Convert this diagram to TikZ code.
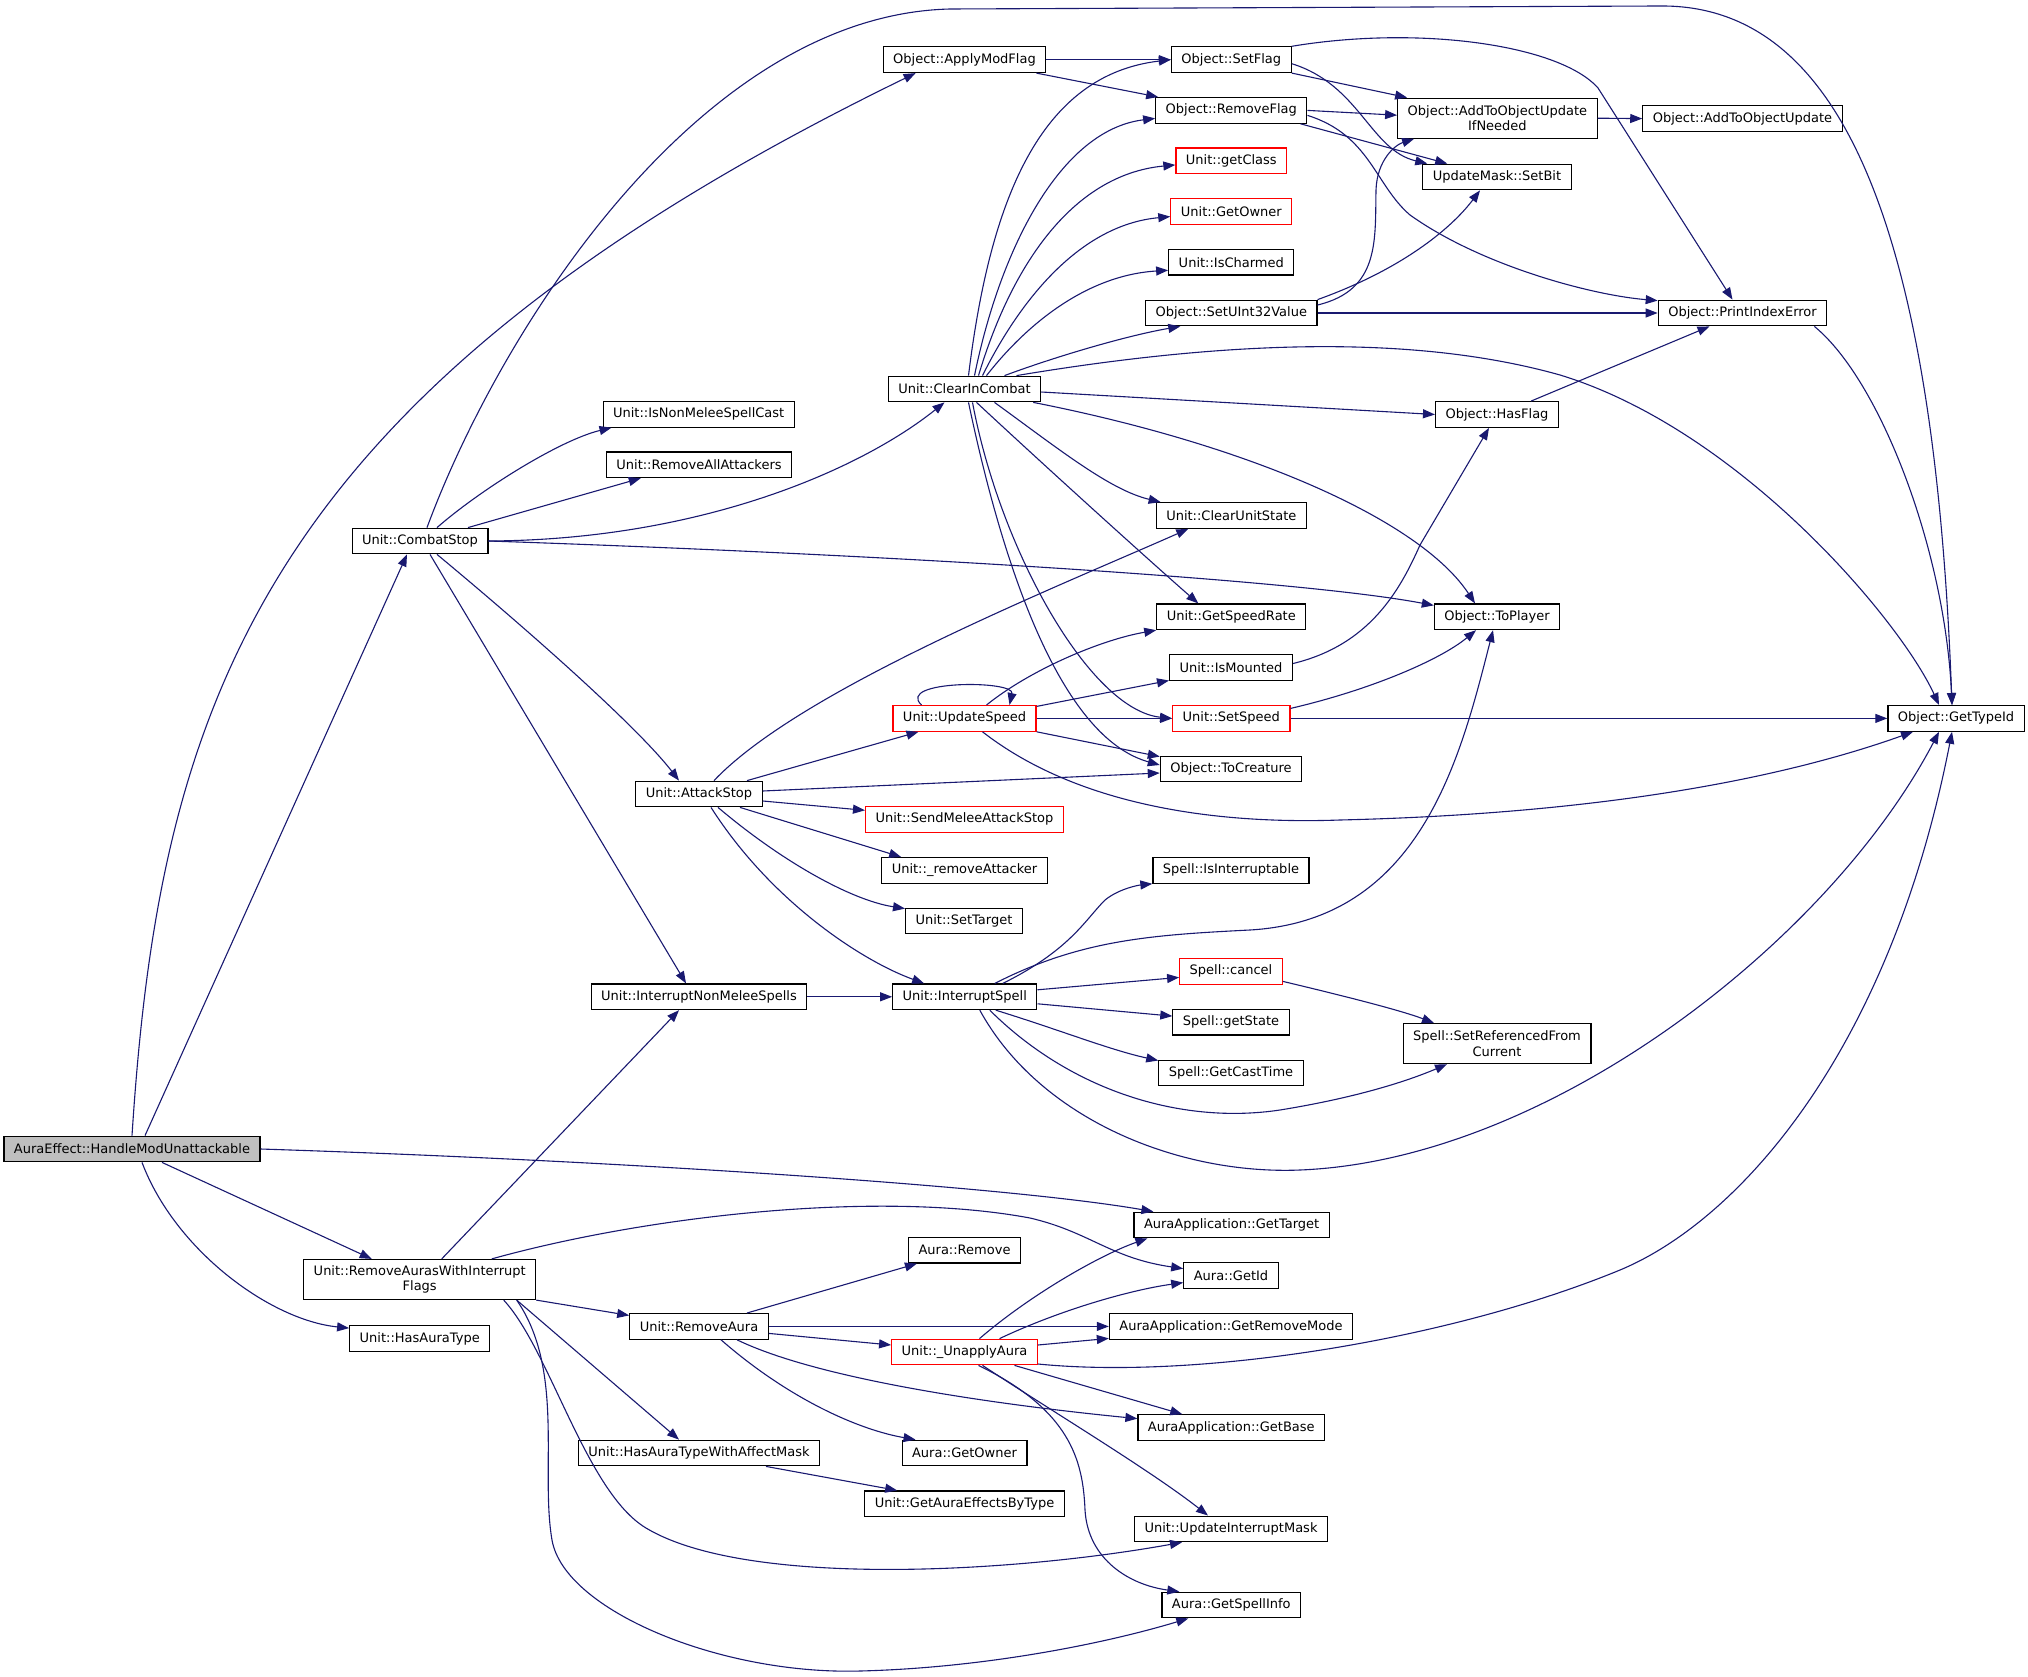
\documentclass[tikz,border=0pt]{standalone}
\usepackage{fontspec}
\setmainfont{DejaVu Sans}
\usetikzlibrary{arrows.meta}
\definecolor{edgeblue}{HTML}{191970}
\tikzset{
    fn/.style={draw=black, line width=1.2pt, fill=white, font=\fontsize{13}{15.5}\selectfont, inner xsep=10pt, inner ysep=3pt, minimum height=25.6pt, align=center},
    fnred/.style={fn, draw=red},
    fnroot/.style={fn, fill=black!25},
    fntwo/.style={fn, minimum height=40pt},
    call/.style={edgeblue, line width=1.1pt, -{Triangle[length=12pt,width=9pt]}}
}
\newcommand{\callLine}[2]{
    \draw[call] (#1) -- (#2);
}
\begin{document}
\begin{tikzpicture}[x=1pt,y=1pt]
            \useasboundingbox (0,0) rectangle (2028,-1677);

            \node[fnroot] (handle) at (132,-1149) {AuraEffect::HandleModUnattackable};
            \node[fn] (combatStop) at (420,-541) {Unit::CombatStop};
            \node[fntwo] (removeAurasWIF) at (419.7,-1279.5) {Unit::RemoveAurasWithInterrupt\\Flags};
            \node[fn] (hasAuraType) at (419.7,-1338.5) {Unit::HasAuraType};
            \node[fn] (applyModFlag) at (964.5,-59.7) {Object::ApplyModFlag};
            \node[fn] (isNonMeleeSpellCast) at (698.7,-414.3) {Unit::IsNonMeleeSpellCast};
            \node[fn] (removeAllAttackers) at (699,-464.8) {Unit::RemoveAllAttackers};
            \node[fn] (clearInCombat) at (964.5,-389) {Unit::ClearInCombat};
            \node[fn] (attackStop) at (699,-794) {Unit::AttackStop};
            \node[fn] (interruptNonMelee) at (699,-996.8) {Unit::InterruptNonMeleeSpells};
            \node[fn] (removeAura) at (699,-1326.4) {Unit::RemoveAura};
            \node[fn] (hasAuraTypeWAM) at (699,-1453) {Unit::HasAuraTypeWithAffectMask};
            \node[fnred] (updateSpeed) at (964.5,-718.4) {Unit::UpdateSpeed};
            \node[fnred] (sendMeleeAttackStop) at (964.5,-819.3) {Unit::SendMeleeAttackStop};
            \node[fn] (removeAttacker) at (964.5,-870.4) {Unit::\_removeAttacker};
            \node[fn] (setTarget) at (964,-921) {Unit::SetTarget};
            \node[fn] (interruptSpell) at (964.8,-996.8) {Unit::InterruptSpell};
            \node[fn] (auraRemove) at (964.5,-1250.2) {Aura::Remove};
            \node[fnred] (unapplyAura) at (964.5,-1352) {Unit::\_UnapplyAura};
            \node[fn] (auraGetOwner) at (964.5,-1453) {Aura::GetOwner};
            \node[fn] (getAuraEffects) at (964.5,-1503.8) {Unit::GetAuraEffectsByType};
            \node[fn] (setFlag) at (1231.3,-59.7) {Object::SetFlag};
            \node[fn] (removeFlag) at (1231.3,-110.4) {Object::RemoveFlag};
            \node[fnred] (getClass) at (1231.3,-160.9) {Unit::getClass};
            \node[fnred] (getOwner) at (1231.3,-211.6) {Unit::GetOwner};
            \node[fn] (isCharmed) at (1231.3,-262.3) {Unit::IsCharmed};
            \node[fn] (setUInt32) at (1231.3,-313) {Object::SetUInt32Value};
            \node[fn] (clearUnitState) at (1231.3,-515.5) {Unit::ClearUnitState};
            \node[fn] (getSpeedRate) at (1231.3,-616.8) {Unit::GetSpeedRate};
            \node[fn] (isMounted) at (1231,-667.5) {Unit::IsMounted};
            \node[fnred] (setSpeed) at (1231.3,-718.4) {Unit::SetSpeed};
            \node[fn] (toCreature) at (1231,-769) {Object::ToCreature};
            \node[fn] (isInterruptable) at (1231,-870.4) {Spell::IsInterruptable};
            \node[fnred] (spellCancel) at (1231,-971.4) {Spell::cancel};
            \node[fn] (getState) at (1231,-1022.1) {Spell::getState};
            \node[fn] (getCastTime) at (1231,-1072.9) {Spell::GetCastTime};
            \node[fn] (getTarget) at (1231.6,-1225) {AuraApplication::GetTarget};
            \node[fn] (auraGetId) at (1231,-1275.6) {Aura::GetId};
            \node[fn] (getRemoveMode) at (1231,-1326.4) {AuraApplication::GetRemoveMode};
            \node[fn] (getBase) at (1231.3,-1427.6) {AuraApplication::GetBase};
            \node[fn] (updateInterruptMask) at (1231,-1528.9) {Unit::UpdateInterruptMask};
            \node[fn] (getSpellInfo) at (1231.3,-1605) {Aura::GetSpellInfo};
            \node[fntwo] (addToUpdateIfNeeded) at (1497.4,-118.2) {Object::AddToObjectUpdate\\IfNeeded};
            \node[fn] (setBit) at (1497,-177) {UpdateMask::SetBit};
            \node[fn] (hasFlag) at (1497,-414.5) {Object::HasFlag};
            \node[fn] (toPlayer) at (1497,-616.8) {Object::ToPlayer};
            \node[fntwo] (setRefFromCurrent) at (1497,-1043.6) {Spell::SetReferencedFrom\\Current};
            \node[fn] (addToUpdate) at (1742.5,-118.6) {Object::AddToObjectUpdate};
            \node[fn] (printIndexError) at (1742.5,-313) {Object::PrintIndexError};
            \node[fn] (getTypeId) at (1956,-718.4) {Object::GetTypeId};

            \draw[call] (handle.north) .. controls (160,-700) and (263,-391) .. ([xshift=33pt]applyModFlag.south west);
            \callLine{[xshift=13pt]handle.north}{[xshift=-13pt]combatStop.south}
            \draw[call] (handle.east) .. controls (600,-1160) and (1000,-1185) .. ([xshift=20pt]getTarget.north west);
            \callLine{[xshift=30pt]handle.south}{[xshift=-48pt]removeAurasWIF.north}
            \draw[call] ([xshift=10pt]handle.south) .. controls (175,-1250) and (270,-1320) .. ([yshift=-3pt]hasAuraType.north west);

            \draw[call] ([xshift=7pt]combatStop.north) .. controls (500,-330) and (700,-15) .. (950,-9) -- (1660,-6) .. controls (1850,-4) and (1935,-250) .. ([xshift=-4pt]getTypeId.north);
            \draw[call] ([xshift=17pt]combatStop.north) .. controls (480,-490) and (560,-440) .. ([xshift=9pt]isNonMeleeSpellCast.south west);
            \callLine{[xshift=48pt]combatStop.north}{[xshift=35pt]removeAllAttackers.south west}
            \draw[call] (combatStop.east) .. controls (700,-540) and (860,-470) .. ([xshift=-20pt]clearInCombat.south);
            \draw[call] (combatStop.east) .. controls (900,-555) and (1300,-580) .. ([yshift=-2pt]toPlayer.north west);
            \draw[call] ([xshift=17pt]combatStop.south) .. controls (540,-640) and (640,-730) .. ([xshift=-20pt]attackStop.north);
            \callLine{[xshift=10pt]combatStop.south}{[xshift=-13pt]interruptNonMelee.north}

            \callLine{applyModFlag.east}{setFlag.west}
            \callLine{[xshift=-10pt]applyModFlag.south east}{[xshift=3pt]removeFlag.north west}
            \callLine{setFlag.south east}{[xshift=10pt]addToUpdateIfNeeded.north west}
            \draw[call] ([yshift=-4pt]setFlag.east) .. controls (1360,-85) and (1370,-150) .. ([xshift=5pt]setBit.north west);
            \draw[call] (setFlag.north east) .. controls (1420,-25) and (1560,-45) .. (1598,-88) -- ([xshift=-10pt]printIndexError.north);
            \callLine{removeFlag.east}{[yshift=3pt]addToUpdateIfNeeded.west}
            \callLine{[xshift=-7pt]removeFlag.south east}{[xshift=25pt]setBit.north west}
            \draw[call] ([yshift=-5pt]removeFlag.east) .. controls (1370,-135) and (1375,-185) .. (1410,-215) .. controls (1480,-265) and (1590,-295) .. ([yshift=-1pt]printIndexError.north west);
            \callLine{addToUpdateIfNeeded.east}{addToUpdate.west}
            \draw[call] ([yshift=8pt]setUInt32.east) .. controls (1380,-290) and (1375,-240) .. (1376,-190) .. controls (1377,-160) and (1395,-145) .. ([xshift=17pt]addToUpdateIfNeeded.south west);
            \draw[call] (setUInt32.north east) .. controls (1400,-270) and (1450,-230) .. ([xshift=-17pt]setBit.south);
            \callLine{setUInt32.east}{printIndexError.west}
            \draw[call] ([xshift=-13pt]printIndexError.south east) .. controls (1880,-380) and (1945,-550) .. ([xshift=-4pt]getTypeId.north);
            \callLine{[xshift=34pt]hasFlag.north}{[xshift=-33pt]printIndexError.south}

            \draw[call] ([xshift=4pt]clearInCombat.north) .. controls (990,-200) and (1040,-75) .. (setFlag.west);
            \draw[call] ([xshift=10pt]clearInCombat.north) .. controls (1000,-250) and (1060,-130) .. ([yshift=-8pt]removeFlag.west);
            \draw[call] ([xshift=14pt]clearInCombat.north) .. controls (1010,-270) and (1070,-175) .. ([yshift=-4pt]getClass.west);
            \draw[call] ([xshift=18pt]clearInCombat.north) .. controls (1020,-300) and (1080,-225) .. ([yshift=-5pt]getOwner.west);
            \draw[call] ([xshift=22pt]clearInCombat.north) .. controls (1030,-320) and (1090,-275) .. ([yshift=-8pt]isCharmed.west);
            \draw[call] ([xshift=40pt]clearInCombat.north) .. controls (1060,-355) and (1130,-335) .. ([xshift=-51pt]setUInt32.south);
            \draw[call] ([xshift=52pt]clearInCombat.north) .. controls (1200,-345) and (1400,-330) .. (1560,-375) .. controls (1740,-430) and (1900,-620) .. ([xshift=-17pt]getTypeId.north);
            \callLine{[yshift=-3pt]clearInCombat.east}{hasFlag.west}
            \draw[call] ([xshift=30pt]clearInCombat.south) .. controls (1060,-450) and (1110,-490) .. ([xshift=5pt]clearUnitState.north west);
            \draw[call] ([xshift=-8pt]clearInCombat.south east) .. controls (1250,-445) and (1420,-520) .. ([xshift=-22pt]toPlayer.north);
            \draw[call] ([xshift=12pt]clearInCombat.south) .. controls (1060,-480) and (1160,-570) .. ([xshift=-33pt]getSpeedRate.north);
            \draw[call] ([xshift=8pt]clearInCombat.south) .. controls (1000,-550) and (1090,-710) .. (setSpeed.west);
            \draw[call] ([xshift=4pt]clearInCombat.south) .. controls (1010,-600) and (1070,-740) .. ([yshift=4pt]toCreature.west);

            \draw[call] ([xshift=15pt]attackStop.north) .. controls (800,-690) and (1050,-590) .. ([xshift=-43pt]clearUnitState.south);
            \callLine{[xshift=48pt]attackStop.north}{[xshift=-46pt]updateSpeed.south}
            \callLine{[yshift=3pt]attackStop.east}{[yshift=-4pt]toCreature.west}
            \callLine{[yshift=-7pt]attackStop.east}{[yshift=9pt]sendMeleeAttackStop.west}
            \callLine{[xshift=41pt]attackStop.south}{[xshift=20pt]removeAttacker.north west}
            \draw[call] ([xshift=19pt]attackStop.south) .. controls (780,-860) and (850,-900) .. ([yshift=-1pt]setTarget.north west);
            \draw[call] ([xshift=12pt]attackStop.south) .. controls (770,-900) and (860,-960) .. ([xshift=32pt]interruptSpell.north west);

            \draw[call] ([xshift=-43pt]updateSpeed.north) .. controls (895,-680) and (1015,-680) .. ([xshift=45pt]updateSpeed.north);
            \draw[call] ([xshift=22pt]updateSpeed.north) .. controls (1030,-670) and (1100,-640) .. (getSpeedRate.south west);
            \callLine{[yshift=12pt]updateSpeed.east}{[yshift=-13pt]isMounted.west}
            \callLine{updateSpeed.east}{setSpeed.west}
            \callLine{updateSpeed.south east}{[yshift=-1pt]toCreature.north west}
            \draw[call] ([xshift=18pt]updateSpeed.south) .. controls (1070,-800) and (1200,-825) .. (1340,-820) .. controls (1550,-815) and (1750,-790) .. ([xshift=-43pt]getTypeId.south);
            \draw[call] ([yshift=4pt]isMounted.east) .. controls (1370,-645) and (1400,-590) .. (1420,-545) -- ([xshift=-8pt]hasFlag.south);
            \draw[call] ([yshift=10pt]setSpeed.east) .. controls (1370,-690) and (1440,-660) .. ([xshift=-21pt]toPlayer.south);
            \callLine{setSpeed.east}{getTypeId.west}

            \draw[call] ([xshift=38pt]interruptSpell.north) .. controls (1070,-950) and (1085,-920) .. (1105,-900) .. controls (1120,-888) and (1140,-885) .. (isInterruptable.south west);
            \draw[call] ([xshift=30pt]interruptSpell.north) .. controls (1080,-940) and (1150,-935) .. (1250,-930) .. controls (1420,-920) and (1460,-760) .. ([xshift=-4pt]toPlayer.south);
            \callLine{[yshift=7pt]interruptSpell.east}{[yshift=-6pt]spellCancel.west}
            \callLine{[yshift=-7pt]interruptSpell.east}{[yshift=6pt]getState.west}
            \draw[call] ([xshift=31pt]interruptSpell.south) .. controls (1060,-1030) and (1110,-1050) .. ([yshift=-1pt]getCastTime.north west);
            \draw[call] ([xshift=25pt]interruptSpell.south) .. controls (1070,-1090) and (1180,-1125) .. (1280,-1110) .. controls (1360,-1097) and (1410,-1080) .. ([xshift=-50pt]setRefFromCurrent.south);
            \draw[call] ([xshift=15pt]interruptSpell.south) .. controls (1040,-1120) and (1180,-1175) .. (1300,-1170) .. controls (1550,-1160) and (1830,-940) .. ([xshift=-17pt]getTypeId.south);
            \draw[call] ([yshift=-10pt]spellCancel.east) .. controls (1340,-995) and (1400,-1010) .. ([xshift=-63pt]setRefFromCurrent.north);
            \callLine{interruptNonMelee.east}{interruptSpell.west}

            \callLine{[xshift=22pt]removeAurasWIF.north}{[xshift=-20pt]interruptNonMelee.south}
            \draw[call] ([xshift=72pt]removeAurasWIF.north) .. controls (650,-1215) and (880,-1190) .. (1030,-1218) .. controls (1090,-1232) and (1110,-1258) .. ([yshift=7pt]auraGetId.west);
            \callLine{removeAurasWIF.south east}{[yshift=11pt]removeAura.west}
            \callLine{[xshift=97pt]removeAurasWIF.south}{[xshift=-20pt]hasAuraTypeWAM.north}
            \draw[call] ([xshift=84pt]removeAurasWIF.south) .. controls (550,-1350) and (586,-1492) .. (646,-1528) .. controls (746,-1588) and (1012,-1573) .. ([xshift=-49pt]updateInterruptMask.south);
            \draw[call] ([xshift=97pt]removeAurasWIF.south) .. controls (565,-1370) and (540,-1470) .. (552,-1540) .. controls (564,-1610) and (720,-1675) .. (860,-1671) .. controls (980,-1668) and (1100,-1645) .. ([xshift=-43pt]getSpellInfo.south);

            \callLine{[xshift=48pt]removeAura.north}{[xshift=9pt]auraRemove.south west}
            \callLine{removeAura.east}{getRemoveMode.west}
            \callLine{[yshift=-7pt]removeAura.east}{[yshift=7pt]unapplyAura.west}
            \draw[call] ([xshift=38pt]removeAura.south) .. controls (820,-1380) and (1000,-1405) .. ([yshift=9pt]getBase.west);
            \draw[call] ([xshift=22pt]removeAura.south) .. controls (790,-1400) and (860,-1430) .. ([xshift=14pt]auraGetOwner.north west);
            \callLine{[xshift=67pt]hasAuraTypeWAM.south}{[xshift=33pt]getAuraEffects.north west}

            \draw[call] ([xshift=15pt]unapplyAura.north) .. controls (1030,-1295) and (1100,-1255) .. ([xshift=14pt]getTarget.south west);
            \draw[call] ([xshift=35pt]unapplyAura.north) .. controls (1060,-1310) and (1130,-1290) .. ([yshift=-7pt]auraGetId.west);
            \callLine{[yshift=7pt]unapplyAura.east}{[yshift=-12pt]getRemoveMode.west}
            \draw[call] ([yshift=-12pt]unapplyAura.east) .. controls (1200,-1380) and (1450,-1340) .. (1620,-1270) .. controls (1740,-1220) and (1890,-1050) .. ([xshift=-4pt]getTypeId.south);
            \callLine{[xshift=50pt]unapplyAura.south}{[xshift=-49pt]getBase.north}
            \draw[call] ([xshift=18pt]unapplyAura.south) .. controls (1050,-1410) and (1150,-1470) .. ([xshift=-23pt]updateInterruptMask.north);
            \draw[call] ([xshift=14pt]unapplyAura.south) .. controls (1070,-1410) and (1083,-1460) .. (1085,-1510) .. controls (1088,-1560) and (1130,-1585) .. ([xshift=-52pt]getSpellInfo.north);

\end{tikzpicture}
\end{document}
